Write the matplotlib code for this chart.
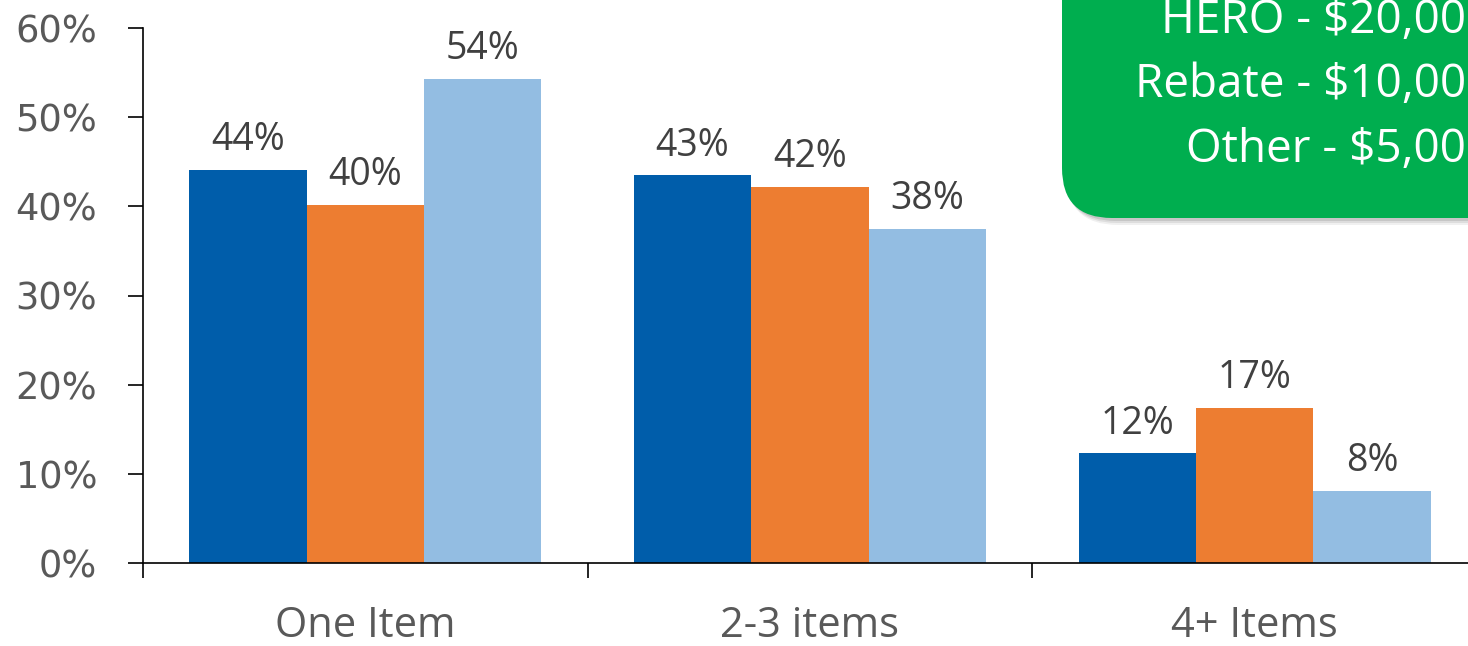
import matplotlib
matplotlib.use("Agg")
import matplotlib.pyplot as plt
from matplotlib.patches import FancyBboxPatch
from matplotlib.transforms import IdentityTransform
from matplotlib.ticker import FixedLocator, PercentFormatter

categories = ["One Item", "2-3 items", "4+ Items"]
series_names = ["HERO", "Rebate", "Other"]
hero = [0.441, 0.435, 0.123]
rebate = [0.402, 0.422, 0.174]
other = [0.543, 0.375, 0.081]
labels_hero = ["44%", "43%", "12%"]
labels_rebate = ["40%", "42%", "17%"]
labels_other = ["54%", "38%", "8%"]
# text as visible in the call-out box (cut at the slide edge in the source)
box_lines = ["HERO - $20,00", "Rebate - $10,00", "Other - $5,00"]
colors = ["#005DAA", "#ED7D31", "#93BDE2"]

W, H = 1468, 646
fig = plt.figure(figsize=(W / 100, H / 100), dpi=100)
ax = fig.add_axes([143 / W, (H - 563) / H, 1334 / W, 535 / H])

bw = 0.264
series = [hero, rebate, other]
labs = [labels_hero, labels_rebate, labels_other]
for k, (vals, lab, col) in enumerate(zip(series, labs, colors)):
    xs = [i + (k - 1) * bw for i in range(len(categories))]
    ax.bar(xs, vals, width=bw, color=col, edgecolor="none", zorder=2)
    for x, v, t in zip(xs, vals, lab):
        ax.annotate(t, (x, v), xytext=(0, 14), textcoords="offset points",
                    ha="center", va="baseline", fontsize=27, color="#404040",
                    family="Open Sans")

ax.set_xlim(-0.5, 2.5)
ax.set_ylim(0, 0.6)
ax.yaxis.set_major_locator(FixedLocator([0, 0.1, 0.2, 0.3, 0.4, 0.5, 0.6]))
ax.yaxis.set_major_formatter(PercentFormatter(1.0, decimals=0))
ax.xaxis.set_major_locator(FixedLocator([-0.5, 0.5, 1.5, 2.5]))
ax.xaxis.set_major_formatter(plt.NullFormatter())
ax.xaxis.set_minor_locator(FixedLocator(range(len(categories))))
ax.set_xticklabels(categories, minor=True)
ax.tick_params(axis="x", which="minor", length=0, pad=30, labelsize=30,
               labelcolor="#595959")
for t in ax.get_xticklabels(minor=True):
    t.set_family("Open Sans")
ax.tick_params(axis="x", which="major", length=11, width=1.2, direction="out", color="black")
ax.tick_params(axis="y", length=11, width=1.2, direction="out", pad=22,
               labelsize=26.5, labelcolor="#595959", color="black")
for t in ax.get_yticklabels():
    t.set_family("DejaVu Sans")
for s in ["top", "right"]:
    ax.spines[s].set_visible(False)
for s in ["left", "bottom"]:
    ax.spines[s].set_color("black")
    ax.spines[s].set_linewidth(1.2)
ax.spines["left"].set_bounds(0, 0.6)

# green call-out box (runs off the figure edge)
bx, by = 1062, H - 218
for i, a in enumerate([0.10, 0.08, 0.06]):
    sh = FancyBboxPatch((bx + 2 + i, by - 3 - 2 * i), 700, 500,
                        boxstyle="round,pad=0,rounding_size=52",
                        transform=IdentityTransform(), facecolor="#000000",
                        edgecolor="none", alpha=a, zorder=4)
    fig.add_artist(sh)
box = FancyBboxPatch((bx, by), 700, 500, boxstyle="round,pad=0,rounding_size=50",
                     transform=IdentityTransform(), facecolor="#00AE4F",
                     edgecolor="none", zorder=5)
fig.add_artist(box)
baselines = [33, 97, 162]
for line, yb in zip(box_lines, baselines):
    fig.text(1466 / W, (H - yb) / H, line, ha="right", va="baseline",
             fontsize=33, color="white", family="Open Sans", zorder=6)

fig.savefig("out.png", dpi=100)
